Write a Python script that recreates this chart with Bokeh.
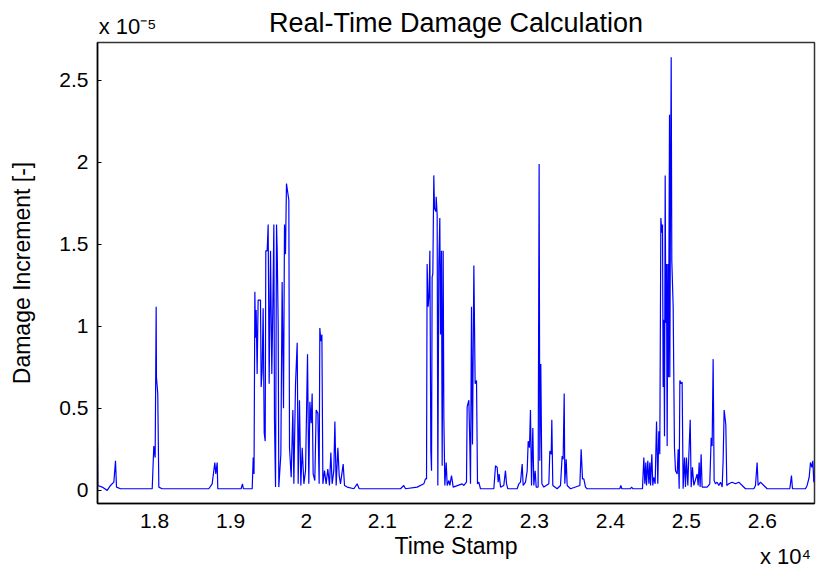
from bokeh.plotting import figure
from bokeh.models import Range1d, FixedTicker, LinearAxis
from bokeh.embed import file_html
from bokeh.resources import INLINE

# ---- data (time stamp, damage increment in units of 1e-5) ----
time_stamp = [
    17250, 17254, 17312, 17378, 17421, 17465, 17487, 17500, 17553, 17970,
    17991, 18009, 18022, 18026, 18043, 18057, 18100, 18715, 18759, 18794,
    18807, 18825, 18833, 19140, 19158, 19170, 19286, 19299, 19310,
    19321, 19329, 19338, 19351, 19364, 19395, 19404, 19417, 19430, 19444,
    19457, 19465, 19483, 19496, 19509, 19527, 19544, 19558, 19571, 19579,
    19593, 19606, 19615, 19628, 19636, 19663, 19680, 19698, 19711, 19724,
    19737, 19768, 19777, 19799, 19821, 19834, 19856, 19878, 19891, 19908,
    19926, 19944, 19966, 19988, 20014, 20031, 20045, 20062, 20075, 20088,
    20110, 20128, 20150, 20167, 20176, 20189, 20203, 20216, 20237, 20259,
    20281, 20303, 20321, 20338, 20360, 20374, 20391, 20413, 20431, 20448,
    20483, 20501, 20536, 20624, 20667, 20694,
    21238, 21281, 21303, 21457, 21545, 21566, 21580, 21588, 21602, 21615,
    21624, 21637, 21646, 21654, 21663, 21676, 21685, 21703, 21707, 21720,
    21729, 21742, 21755, 21764, 21777, 21786, 21799, 21808, 21821, 21839,
    21852, 21874, 21887, 21909, 21931, 22049, 22071, 22106, 22115, 22137,
    22150, 22159, 22172, 22185, 22203, 22220, 22238, 22251, 22268, 22290,
    22466, 22488, 22510, 22523, 22536, 22554, 22597, 22619, 22633, 22650,
    22773, 22795, 22817, 22839, 22852, 22883, 22905, 22918, 22935, 22948,
    22962, 22979, 22992, 23010, 23023, 23049, 23062, 23071, 23084, 23098,
    23124, 23190, 23203, 23221, 23229, 23242, 23299, 23343, 23365, 23378,
    23392, 23400, 23418, 23431, 23475, 23598, 23615, 23633, 23650, 23672,
    23694, 24124, 24137, 24150, 24264, 24278, 24295,
    24396, 24422, 24440, 24453, 24466, 24475, 24492, 24506, 24519, 24528,
    24545, 24558, 24571, 24589, 24607, 24624, 24637, 24650, 24664, 24677,
    24686, 24694, 24703, 24712, 24721, 24729, 24738, 24747, 24756, 24764,
    24778, 24782, 24791, 24800, 24808, 24826, 24843, 24857, 24879, 24892,
    24905, 24914, 24931, 24944, 24957, 24975, 24988, 25001, 25019, 25032,
    25050, 25063, 25080, 25098, 25142, 25155, 25168, 25181, 25194, 25207,
    25273, 25308, 25326, 25339, 25352, 25365, 25383, 25405, 25427, 25449,
    25471, 25484, 25497, 25519, 25532, 25558, 25602, 25646, 25690, 25734,
    25778, 25888, 25909, 25931, 25944, 25975, 26019, 26063, 26361, 26383,
    26396, 26567, 26589, 26616, 26633, 26651, 26664, 26677, 26699,
]
damage_e5 = [
    0.29, 0.03, 0.02, 0.00, 0.03, 0.05, 0.18, 0.02, 0.01, 0.01,
    0.27, 0.20, 1.12, 0.69, 0.59, 0.02, 0.01, 0.01, 0.04, 0.17,
    0.10, 0.17, 0.01, 0.01, 0.04, 0.01, 0.01, 0.20, 0.10,
    1.21, 0.93, 1.10, 0.71, 1.16, 1.16, 0.63, 0.73, 1.11, 0.35,
    0.30, 1.46, 1.46, 1.62, 0.65, 1.46, 0.71, 1.14, 1.62, 0.43,
    0.02, 1.62, 1.46, 1.00, 0.02, 0.22, 1.27, 0.50, 1.62, 1.44,
    1.87, 1.77, 0.26, 0.08, 0.49, 0.04, 0.65, 0.90, 0.04, 0.55,
    0.03, 0.26, 0.04, 0.12, 0.83, 0.04, 0.54, 0.41, 0.59, 0.10,
    0.06, 0.49, 0.47, 0.04, 0.99, 0.91, 0.95, 0.04, 0.12, 0.04,
    0.13, 0.03, 0.23, 0.04, 0.12, 0.42, 0.03, 0.26, 0.09, 0.04,
    0.16, 0.03, 0.02, 0.01, 0.04, 0.01,
    0.01, 0.03, 0.01, 0.02, 0.04, 0.07, 0.07, 1.38, 1.12, 1.20,
    1.46, 0.24, 0.12, 1.30, 1.32, 1.92, 1.72, 1.70, 1.79, 1.68,
    0.03, 1.38, 1.66, 0.95, 1.46, 0.15, 1.46, 0.45, 0.03, 0.17,
    0.03, 0.06, 0.03, 0.09, 0.02, 0.04, 0.03, 0.05, 0.51, 0.55,
    0.28, 0.04, 1.12, 0.28, 1.37, 0.65, 0.67, 0.04, 0.05, 0.01,
    0.01, 0.15, 0.14, 0.05, 0.10, 0.02, 0.03, 0.12, 0.04, 0.01,
    0.01, 0.04, 0.05, 0.16, 0.03, 0.05, 0.12, 0.30, 0.26, 0.49,
    0.03, 0.38, 0.03, 0.12, 0.02, 0.02, 1.99, 0.18, 0.77, 0.04,
    0.02, 0.04, 0.24, 0.22, 0.43, 0.03, 0.01, 0.03, 0.21, 0.19,
    0.59, 0.04, 0.19, 0.03, 0.01, 0.03, 0.25, 0.07, 0.07, 0.02,
    0.01, 0.01, 0.03, 0.01, 0.01, 0.02, 0.01,
    0.01, 0.01, 0.20, 0.04, 0.17, 0.03, 0.18, 0.04, 0.17, 0.03,
    0.22, 0.03, 0.08, 0.04, 0.42, 0.04, 0.36, 0.22, 1.66, 1.57,
    1.62, 0.63, 1.04, 0.33, 1.92, 1.02, 1.38, 0.27, 1.38, 0.69,
    2.29, 0.69, 1.79, 2.64, 1.40, 1.12, 0.26, 0.12, 0.10, 0.25,
    0.01, 0.67, 0.65, 0.66, 0.01, 0.20, 0.02, 0.20, 0.03, 0.21,
    0.43, 0.02, 0.14, 0.03, 0.10, 0.03, 0.17, 0.02, 0.22, 0.02,
    0.02, 0.04, 0.32, 0.27, 0.80, 0.06, 0.04, 0.05, 0.03, 0.05,
    0.02, 0.19, 0.49, 0.40, 0.03, 0.04, 0.05, 0.04, 0.05, 0.03,
    0.01, 0.01, 0.03, 0.17, 0.03, 0.05, 0.03, 0.01, 0.01, 0.09,
    0.01, 0.01, 0.03, 0.08, 0.17, 0.14, 0.18, 0.05, 0.10,
]

x_tick_values = [18000, 19000, 20000, 21000, 22000, 23000, 24000, 25000, 26000]
x_tick_labels = ["1.8", "1.9", "2", "2.1", "2.2", "2.3", "2.4", "2.5", "2.6"]
y_tick_values = [0, 0.5, 1, 1.5, 2, 2.5]
y_tick_labels = ["0", "0.5", "1", "1.5", "2", "2.5"]
title_text = "Real-Time Damage Calculation"
x_label = "Time Stamp"
y_label = "Damage Increment [-]"
y_multiplier = "x 10\u207b\u2075"   # x 10^-5
x_multiplier = "x 10\u2074"         # x 10^4

FONT = "Liberation Sans"

p = figure(
    width=817, height=572,
    output_backend="svg", toolbar_location=None,
    x_range=Range1d(17250, 26686), y_range=Range1d(-0.08, 2.73),
    min_border_left=97, min_border_right=3, min_border_top=42, min_border_bottom=69,
)
p.background_fill_color = "white"
p.border_fill_color = "white"
p.grid.visible = False
p.outline_line_color = "#333333"
p.outline_line_width = 1.5

p.line(time_stamp, damage_e5, line_color="#0000FF", line_width=1.2)


def style_axis(ax, label_size="21px"):
    ax.axis_line_color = "black"
    ax.axis_line_width = 1.5
    ax.major_label_text_font = FONT
    ax.major_label_text_font_size = label_size
    ax.major_label_text_color = "black"
    ax.axis_label_text_font = FONT
    ax.axis_label_text_font_size = "23px"
    ax.axis_label_text_font_style = "normal"
    ax.axis_label_text_color = "black"
    ax.minor_tick_line_color = None


# main axes
p.xaxis.ticker = FixedTicker(ticks=x_tick_values)
p.xaxis.major_label_overrides = dict(zip(x_tick_values, x_tick_labels))
p.yaxis.ticker = FixedTicker(ticks=y_tick_values)
p.yaxis.major_label_overrides = dict(zip(y_tick_values, y_tick_labels))
style_axis(p.xaxis[0])
style_axis(p.yaxis[0])

p.xaxis.axis_label = x_label
p.xaxis.major_tick_in = 0
p.xaxis.major_tick_out = 0
p.xaxis.major_label_standoff = 10
p.xaxis.axis_label_standoff = 2

p.yaxis.axis_label = y_label
p.yaxis.major_tick_in = 4
p.yaxis.major_tick_out = 0
p.yaxis.major_tick_line_color = "black"
p.yaxis.major_label_standoff = 9
p.yaxis.axis_label_standoff = 21

# top band: exponent "x 10^-5" at left and the title centred on the same row
top = LinearAxis(ticker=FixedTicker(ticks=[17645]), major_label_overrides={17645: y_multiplier})
style_axis(top, "22px")
top.axis_line_color = None
top.major_tick_in = 0
top.major_tick_out = 0
top.major_label_standoff = 4
top.axis_label = title_text
top.axis_label_text_font_size = "27px"
top.axis_label_standoff = -27
p.add_layout(top, "above")

# bottom-right exponent "x 10^4"
bottom2 = LinearAxis(ticker=FixedTicker(ticks=[26304]), major_label_overrides={26304: x_multiplier})
style_axis(bottom2, "22px")
bottom2.axis_line_color = None
bottom2.major_tick_in = 0
bottom2.major_tick_out = 0
bottom2.major_label_standoff = -18
p.add_layout(bottom2, "below")

open("out.html", "w").write(file_html(p, INLINE))
